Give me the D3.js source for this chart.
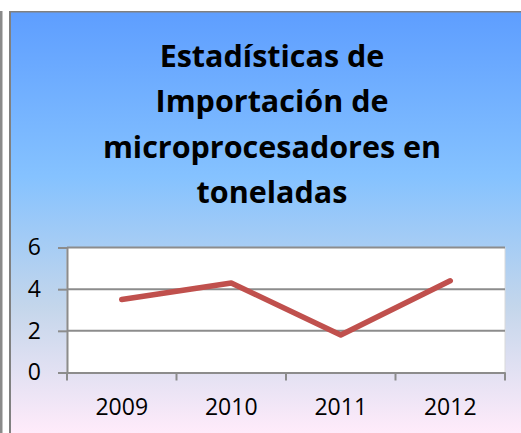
<!DOCTYPE html>
<html>
<head>
<meta charset="utf-8">
<script src="https://cdn.jsdelivr.net/npm/d3@7"></script>
<style>
  html, body { margin: 0; padding: 0; background: #fff; }
  svg { display: block; font-family: "Open Sans", sans-serif; }
</style>
</head>
<body>
<div class="chart"></div>
<script>
const years = ["2009", "2010", "2011", "2012"];
const values = [3.5, 4.3, 1.8, 4.4];
const yTicks = [0, 2, 4, 6];
const titleLines = ["Estadísticas de", "Importación de", "microprocesadores en", "toneladas"];

const W = 521, H = 433,
      plot = {left: 67, right: 505, top: 247.5, bottom: 372.5};

const svg = d3.select(".chart")
  .append("svg")
  .attr("width", W)
  .attr("height", H);

// Daybreak-like gradient fill
const grad = svg.append("defs").append("linearGradient")
  .attr("id", "bg")
  .attr("x1", 0).attr("y1", 0).attr("x2", 0).attr("y2", 1);
[["0%", "#5E9EFF"], ["39%", "#85C2FF"], ["70%", "#C4D6EB"], ["100%", "#FFEBFA"]]
  .forEach(s => grad.append("stop").attr("offset", s[0]).attr("stop-color", s[1]));

// outer frame pieces
svg.append("rect").attr("x", 0).attr("y", 11).attr("width", 2.5).attr("height", H - 11).attr("fill", "#8a8a8a");
svg.append("rect").attr("x", 9).attr("y", 11).attr("width", W - 9).attr("height", H - 11).attr("fill", "#808080");
svg.append("rect").attr("x", 11).attr("y", 12.5).attr("width", W - 11).attr("height", H - 12.5).attr("fill", "url(#bg)");

// title
svg.append("text")
  .attr("x", 272)
  .attr("font-size", 30.5)
  .attr("font-weight", "bold")
  .attr("fill", "#000")
  .attr("text-anchor", "middle")
  .selectAll("tspan")
  .data(titleLines)
  .enter()
  .append("tspan")
  .attr("x", 272)
  .attr("y", (d, i) => 67 + i * 45.3)
  .text(d => d);

const x = d3.scaleBand()
  .domain(years)
  .range([plot.left, plot.right]);
const y = d3.scaleLinear()
  .domain([0, 6])
  .range([plot.bottom, plot.top]);

// plot area
svg.append("rect")
  .attr("x", plot.left)
  .attr("y", plot.top)
  .attr("width", plot.right - plot.left)
  .attr("height", plot.bottom - plot.top)
  .attr("fill", "#fff")
  .attr("stroke", "#d9d9d9")
  .attr("stroke-width", 1);

// gridlines
svg.append("g")
  .selectAll("line")
  .data(yTicks.filter(d => d > 0))
  .enter()
  .append("line")
  .attr("x1", plot.left)
  .attr("x2", plot.right)
  .attr("y1", d => y(d))
  .attr("y2", d => y(d))
  .attr("stroke", "#8c8c8c")
  .attr("stroke-width", 2);

const yAxis = d3.axisLeft(y)
  .tickValues(yTicks)
  .tickFormat(d3.format("d"))
  .tickSize(9)
  .tickPadding(17);
const gy = svg.append("g")
  .attr("transform", "translate(" + plot.left + ",0)")
  .call(yAxis)
  .attr("id", "y-axis");
gy.select(".domain").attr("stroke", "#8c8c8c").attr("stroke-width", 2);
gy.selectAll(".tick line").attr("stroke", "#8c8c8c").attr("stroke-width", 2);
gy.selectAll(".tick text").attr("font-size", 23).attr("fill", "#000").attr("font-family", "'Open Sans', sans-serif");

const xAxis = d3.axisBottom(x)
  .tickSize(0)
  .tickPadding(26);
const gx = svg.append("g")
  .attr("transform", "translate(0," + plot.bottom + ")")
  .call(xAxis)
  .attr("id", "x-axis");
gx.select(".domain").attr("stroke", "#8c8c8c").attr("stroke-width", 2);
gx.selectAll(".tick text").attr("font-size", 23).attr("fill", "#000").attr("font-family", "'Open Sans', sans-serif");
// category separators
gx.append("g")
  .selectAll("line")
  .data(years.map(d => x(d)).concat([plot.right]))
  .enter()
  .append("line")
  .attr("x1", d => d)
  .attr("x2", d => d)
  .attr("y1", 0)
  .attr("y2", 8)
  .attr("stroke", "#8c8c8c")
  .attr("stroke-width", 2);

// series line
const line = d3.line()
  .x((d, i) => x(years[i]) + x.bandwidth() / 2)
  .y(d => y(d));
svg.append("path")
  .datum(values)
  .attr("d", line)
  .attr("fill", "none")
  .attr("stroke", "#C0504D")
  .attr("stroke-width", 5.5)
  .attr("stroke-linecap", "round")
  .attr("stroke-linejoin", "round");
</script>
</body>
</html>
